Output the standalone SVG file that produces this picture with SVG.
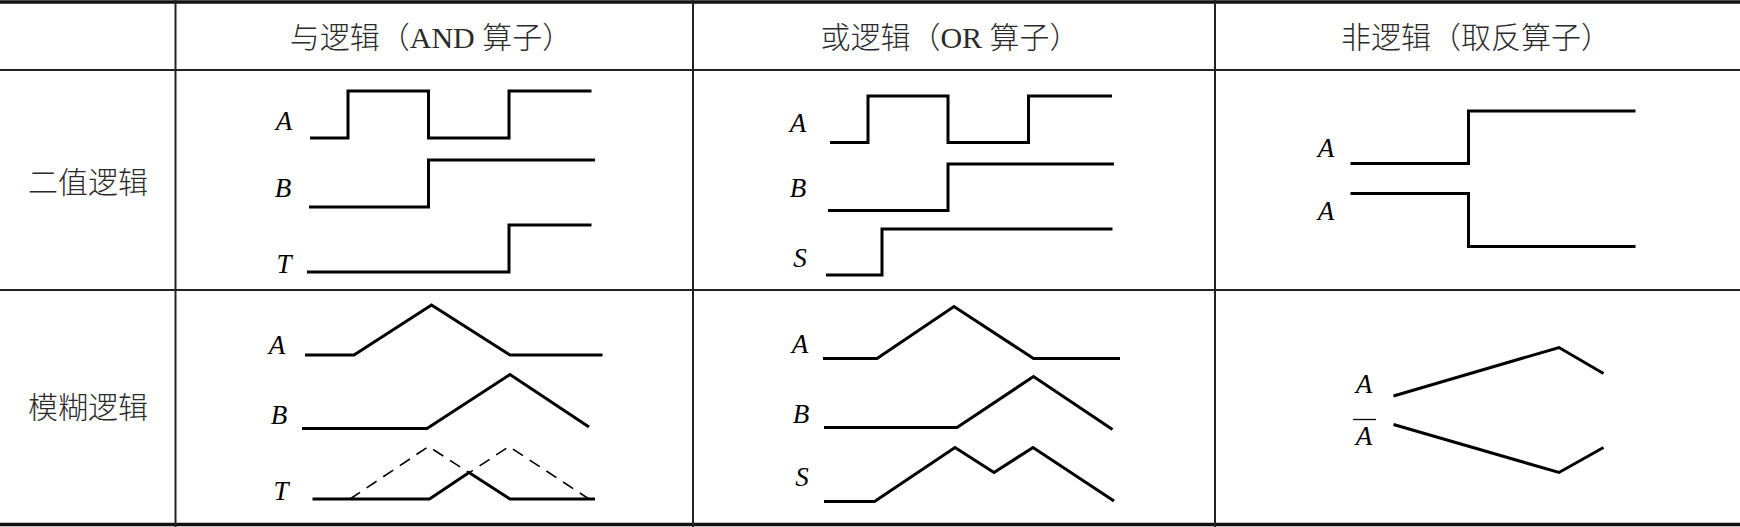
<svg xmlns="http://www.w3.org/2000/svg" width="1740" height="527" viewBox="0 0 1740 527">
<style>
.bg{fill:#fff}
.rule{stroke:#222;stroke-width:2;fill:none}
.thick{stroke:#111;stroke-width:3.5;fill:none}
.wave{stroke:#000;stroke-width:3;fill:none;stroke-linejoin:miter;stroke-linecap:butt}
.dash{stroke:#000;stroke-width:1.6;fill:none;stroke-dasharray:12 8}
.hdr{font-family:"Liberation Serif","Noto Sans CJK SC",serif;font-size:30px;font-weight:300;fill:#2a2a2a;text-anchor:middle}
.lab{font-family:"Liberation Serif",serif;font-style:italic;font-size:27px;fill:#000;text-anchor:middle}
</style>
<rect class="bg" x="0" y="0" width="1740" height="527"/>
<g id="grid">
<line class="thick" x1="0" y1="2" x2="1740" y2="2"/>
<line class="rule" x1="0" y1="70" x2="1740" y2="70"/>
<line class="rule" x1="0" y1="290" x2="1740" y2="290"/>
<line class="thick" x1="0" y1="524.5" x2="1740" y2="524.5"/>
<line class="rule" x1="175.5" y1="0" x2="175.5" y2="527"/>
<line class="rule" x1="693" y1="0" x2="693" y2="527"/>
<line class="rule" x1="1215" y1="0" x2="1215" y2="527"/>
</g>
<g id="headers">
<text class="hdr" x="431" y="48">与逻辑（AND 算子）</text>
<text class="hdr" x="950" y="48">或逻辑（OR 算子）</text>
<text class="hdr" x="1476" y="48">非逻辑（取反算子）</text>
<text class="hdr" x="88" y="193">二值逻辑</text>
<text class="hdr" x="88" y="418">模糊逻辑</text>
</g>
<g id="and-binary">
<text class="lab" x="284" y="130">A</text>
<text class="lab" x="283" y="197">B</text>
<text class="lab" x="284" y="273">T</text>
<polyline class="wave" points="310,138 348,138 348,91 428.5,91 428.5,138 509,138 509,91 591.5,91"/>
<polyline class="wave" points="309,207 428.5,207 428.5,160 595,160"/>
<polyline class="wave" points="307,272 509,272 509,225 591.5,225"/>
</g>
<g id="or-binary">
<text class="lab" x="798" y="132">A</text>
<text class="lab" x="798" y="197">B</text>
<text class="lab" x="800" y="267">S</text>
<polyline class="wave" points="830,142.5 868,142.5 868,96 948,96 948,142.5 1028.5,142.5 1028.5,96 1112,96"/>
<polyline class="wave" points="828,210.5 948,210.5 948,164 1114,164"/>
<polyline class="wave" points="826,275 882,275 882,229 1112.5,229"/>
</g>
<g id="not-binary">
<text class="lab" x="1326" y="157">A</text>
<text class="lab" x="1326" y="220">A</text>
<polyline class="wave" points="1350.5,163.5 1468.5,163.5 1468.5,111 1635.5,111"/>
<polyline class="wave" points="1350.5,193.5 1468.5,193.5 1468.5,246.5 1635.5,246.5"/>
</g>
<g id="and-fuzzy">
<text class="lab" x="277" y="354">A</text>
<text class="lab" x="279" y="424">B</text>
<text class="lab" x="281" y="500">T</text>
<polyline class="wave" points="305,355 354,355 431.5,305 510,355 602.5,355"/>
<polyline class="wave" points="302,428.5 427,428.5 510,374.5 589,427"/>
<polyline class="dash" points="350,499 428.5,446.5 510,499"/>
<polyline class="dash" points="429.5,499 509,446.5 589,499"/>
<polyline class="wave" points="312.5,499 429.5,499 469,472.5 510,499 595,499"/>
</g>
<g id="or-fuzzy">
<text class="lab" x="800" y="352.5">A</text>
<text class="lab" x="801" y="423">B</text>
<text class="lab" x="802" y="486">S</text>
<polyline class="wave" points="823,358.5 877,358.5 954,306.5 1033.5,358.5 1120,358.5"/>
<polyline class="wave" points="824,427.5 957,427.5 1033.5,376.5 1112.5,429.5"/>
<polyline class="wave" points="824,501.5 874.5,501.5 955,447.5 994,472.5 1033,447.5 1114,501"/>
</g>
<g id="not-fuzzy">
<text class="lab" x="1364" y="393">A</text>
<text class="lab" x="1364" y="445">A</text>
<line x1="1353" y1="419.5" x2="1376" y2="419.5" stroke="#000" stroke-width="1.3"/>
<polyline class="wave" points="1393.5,396 1559,347.5 1603.5,373.5"/>
<polyline class="wave" points="1393.5,424.5 1559,472.5 1603.5,447.5"/>
</g>
</svg>
